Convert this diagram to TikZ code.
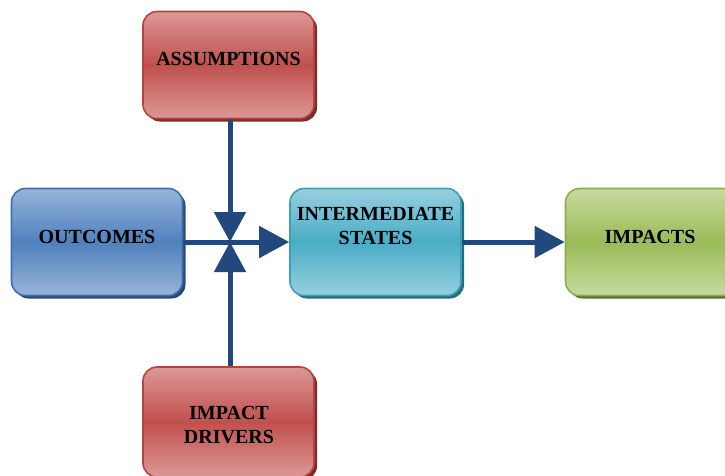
\documentclass[tikz,border=0pt]{standalone}
\usepackage{fontspec}
\setmainfont{Liberation Serif}
\usetikzlibrary{arrows.meta,shadows}

% fill colours of the boxes: light edge, saturated middle, outline, shadow
\definecolor{redL}{HTML}{DC9896}
\definecolor{redM}{HTML}{C0504D}
\definecolor{redD}{HTML}{B9413E}
\definecolor{redS}{HTML}{7A2E2C}
\definecolor{bluL}{HTML}{97B4DA}
\definecolor{bluM}{HTML}{4F81BD}
\definecolor{bluD}{HTML}{3F6FAE}
\definecolor{bluS}{HTML}{2C4A70}
\definecolor{tealL}{HTML}{96D0DE}
\definecolor{tealM}{HTML}{4BACC6}
\definecolor{tealD}{HTML}{3C9EB8}
\definecolor{tealS}{HTML}{2A6B7C}
\definecolor{grnL}{HTML}{C6DA9E}
\definecolor{grnM}{HTML}{9BBB59}
\definecolor{grnD}{HTML}{8CAE48}
\definecolor{grnS}{HTML}{5A7530}
\definecolor{arrowc}{HTML}{22497E}

\tikzset{
  box/.style={rounded corners=14pt, line width=1.6pt, minimum width=171pt,
    minimum height=107pt, align=center, inner sep=0pt},
  redbox/.style={box, draw=redD, top color=redL, bottom color=redL, middle color=redM,
    drop shadow={shadow xshift=3pt, shadow yshift=-3pt, fill=redS, opacity=1}},
  bluebox/.style={box, draw=bluD, top color=bluL, bottom color=bluL, middle color=bluM,
    drop shadow={shadow xshift=3pt, shadow yshift=-3pt, fill=bluS, opacity=1}},
  tealbox/.style={box, draw=tealD, top color=tealL, bottom color=tealL, middle color=tealM,
    drop shadow={shadow xshift=3pt, shadow yshift=-3pt, fill=tealS, opacity=1}},
  greenbox/.style={box, draw=grnD, top color=grnL, bottom color=grnL, middle color=grnM,
    drop shadow={shadow xshift=3pt, shadow yshift=-3pt, fill=grnS, opacity=1}},
  flow/.style={draw=arrowc, line width=5pt,
    -{Triangle[width=31pt,length=30pt]}},
  label/.style={font=\fontsize{20}{24}\selectfont\bfseries, align=center, inner sep=0pt}
}

\begin{document}
\begin{tikzpicture}[x=1pt,y=-1pt]
  \useasboundingbox (0,0) rectangle (725,475);
  \clip (0,0) rectangle (725,475);

  % boxes
  \node[redbox]   (ass) at (228.5,65)  {};
  \node[bluebox]  (out) at (97,242)    {};
  \node[tealbox]  (mid) at (375.5,242) {};
  \node[greenbox] (imp) at (651,242)   {};
  \node[redbox, minimum height=110pt] (drv) at (228.5,422) {};

  % box captions
  \node[label] at (228.5,59)  {ASSUMPTIONS};
  \node[label] at (97,237)    {OUTCOMES};
  \node[label] at (375.5,226) {INTERMEDIATE\\STATES};
  \node[label] at (650,237)   {IMPACTS};
  \node[label] at (229,425)   {IMPACT\\DRIVERS};

  % junction where the three inputs meet
  \coordinate (hub) at (230,242);

  % connectors
  \draw[draw=arrowc, line width=5pt] (out.east) -- (hub);
  \draw[flow] (hub) -- (mid.west);
  \draw[flow] (ass.south -| hub) -- (hub);
  \draw[flow] (drv.north -| hub) -- (hub);
  \draw[flow] (mid.east) -- (imp.west);
\end{tikzpicture}
\end{document}
